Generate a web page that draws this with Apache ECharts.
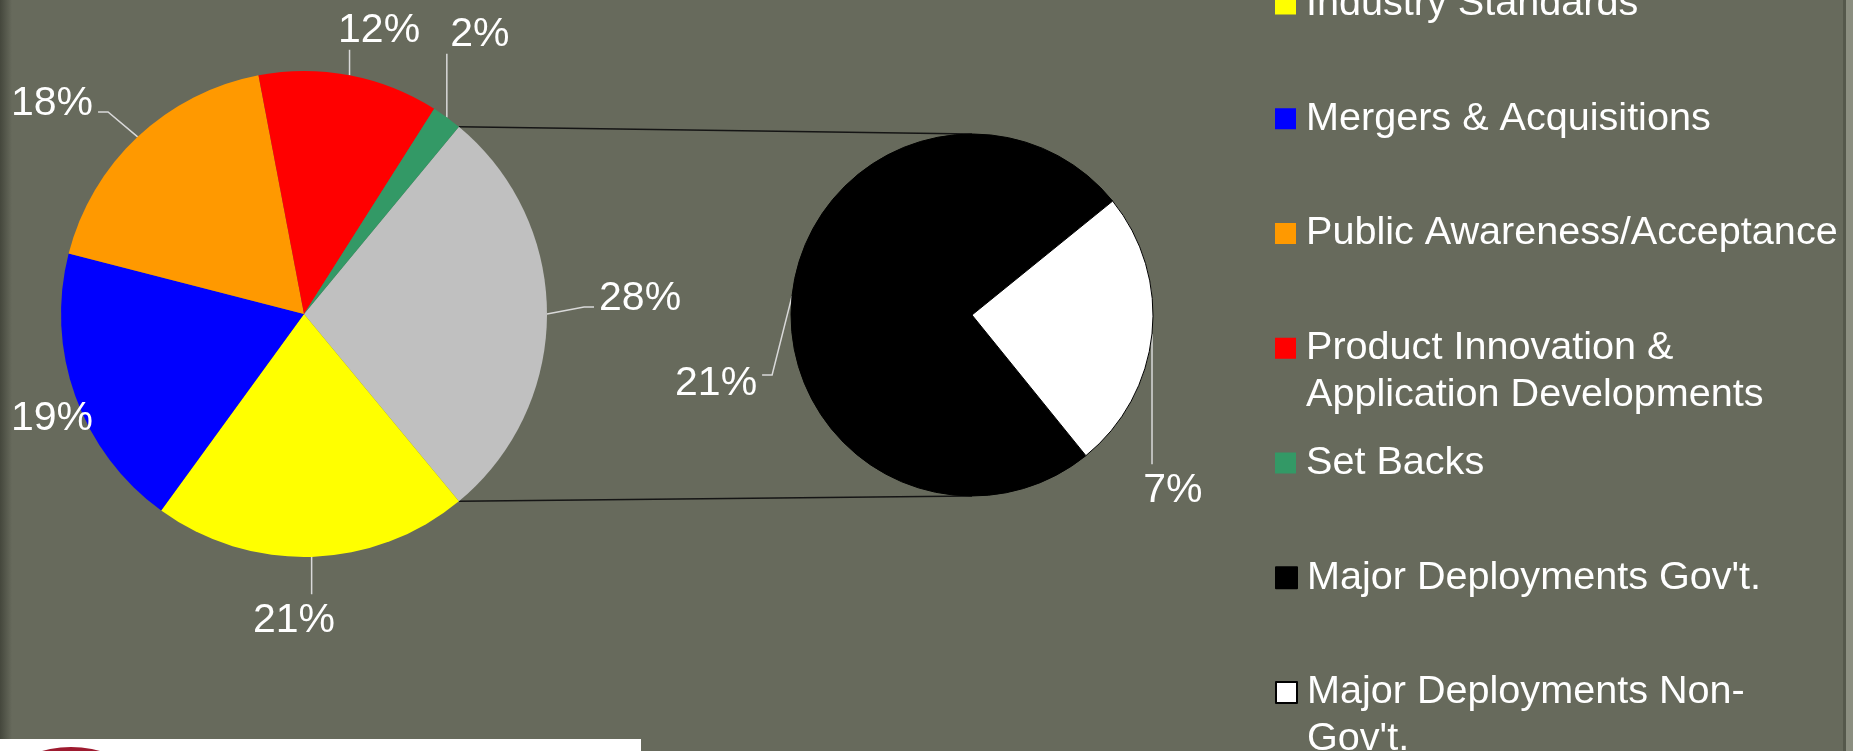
<!DOCTYPE html>
<html>
<head>
<meta charset="utf-8">
<script src="https://cdn.jsdelivr.net/npm/echarts@6/dist/echarts.min.js"></script>
<style>
  html, body { margin: 0; padding: 0; background: #676a5c; }
  #chart { width: 1853px; height: 751px; }
</style>
</head>
<body>
<div id="chart"></div>
<script>
// ---------- data ----------
const categories = ['Major Deployments', 'Industry Standards', 'Mergers & Acquisitions',
  'Public Awareness/Acceptance', 'Product Innovation & Application Developments', 'Set Backs'];
const values = [28, 21, 19, 18, 12, 2];
const colors = ['#c0c0c0', '#ffff00', '#0000ff', '#ff9900', '#ff0000', '#339966'];

const subCategories = ["Major Deployments Gov't.", "Major Deployments Non-Gov't."];
const subValues = [21, 7];
const subColors = ['#000000', '#ffffff'];

const legendNames = categories.slice(1).concat(subCategories);
const legendText = {
  'Product Innovation & Application Developments': ['Product Innovation &', 'Application Developments'],
  "Major Deployments Non-Gov't.": ['Major Deployments Non-', "Gov't."]
};

// ---------- layout ----------
const FONT = "'Liberation Sans', Arial, Helvetica, sans-serif";
const LABEL_FONT = 41;
const LABEL_DY = 4;
const MAIN = { cx: 304, cy: 314, r: 243 };
const SUB = { cx: 972, cy: 315, r: 181 };
const mainTotal = values.reduce((a, b) => a + b, 0);
const subTotal = subValues.reduce((a, b) => a + b, 0);
// split slice (index 0) centred on the horizontal towards the secondary pie
const mainStartAngle = values[0] / mainTotal * 180;
const subStartAngle = -51;
// label centre offsets (in radius units, relative to the pie centre)
const mainLabelOffsets = [[1.383, -0.078], [-0.041, 1.247], [-1.037, 0.416], [-1.037, -0.881], [0.309, -1.181], [0.724, -1.165]];
const subLabelOffsets = [[-1.414, 0.359], [1.110, 0.950]];
const LEG = { left: 1275, c0: 4, step: 114.75, lineHeight: 47, fontSize: 39.6 };

function midAngles(vals, total, startAngle) { // degrees clockwise from 12 o'clock
  let acc = 0;
  return vals.map(v => { const m = (90 - startAngle) + (acc + v / 2) / total * 360; acc += v; return m; });
}
const mainMid = midAngles(values, mainTotal, mainStartAngle);
const subMid = midAngles(subValues, subTotal, subStartAngle);

function clamp(v, a, b) { return Math.min(Math.max(v, a), b); }

function makeLabelLayout(geo, mids, offsets) {
  return function (p) {
    const i = p.dataIndex;
    const th = mids[i] * Math.PI / 180;
    const ex = geo.cx + geo.r * Math.sin(th), ey = geo.cy - geo.r * Math.cos(th);
    const lx = geo.cx + offsets[i][0] * geo.r, ly = geo.cy + offsets[i][1] * geo.r;
    const hw = p.labelRect.width / 2 + 5, hh = LABEL_FONT * 0.36 + 8;
    const ax = clamp(ex, lx - hw, lx + hw);
    let ay = clamp(ey, ly - hh, ly + hh);
    if (ax !== ex) ay = clamp(ey, ly - 5, ly + 12);
    let mx, my;
    if (ax !== ex && ay !== ey) { mx = ax + Math.sign(ex - ax) * 10; my = ay; }
    else { mx = (ax + ex) / 2; my = (ay + ey) / 2; }
    return { x: lx, y: ly + LABEL_DY, align: 'center', verticalAlign: 'middle',
      labelLinePoints: [[ex, ey], [mx, my], [ax, ay]] };
  };
}

function pointAt(geo, deg) {
  const t = deg * Math.PI / 180;
  return [geo.cx + geo.r * Math.sin(t), geo.cy - geo.r * Math.cos(t)];
}
const splitStart = 90 - mainStartAngle;
const splitEnd = splitStart + values[0] / mainTotal * 360;
const pTop = pointAt(MAIN, splitStart), pBot = pointAt(MAIN, splitEnd);

// one legend per entry so that the spacing matches; wrapped entries get a blank
// first line so that the marker sits beside the first visible line
const legends = legendNames.map((name, i) => {
  const lines = legendText[name];
  const c = LEG.c0 + i * LEG.step;
  const lg = {
    data: [name], orient: 'vertical', left: LEG.left,
    top: c - (lines ? 1.5 : 0.5) * LEG.lineHeight,
    padding: 0, itemWidth: 21, itemHeight: 21, icon: 'rect', selectedMode: false,
    formatter: n => (legendText[n] ? [' '].concat(legendText[n]).join('\n') : n),
    textStyle: { color: '#ffffff', fontSize: LEG.fontSize, fontFamily: FONT, lineHeight: LEG.lineHeight,
      backgroundColor: 'rgba(0,0,0,0)', padding: [0, 0, 0, 5] }
  };
  if (name === subCategories[1]) lg.itemStyle = { borderColor: '#000000', borderWidth: 2 };
  return lg;
});

const chart = echarts.init(document.getElementById('chart'), null, { renderer: 'canvas' });
chart.setOption({
  animation: false,
  backgroundColor: '#676a5c',
  legend: legends,
  graphic: [
    { type: 'rect', z: 0, silent: true, shape: { x: 0, y: 0, width: 12, height: 751 },
      style: { fill: new echarts.graphic.LinearGradient(0, 0, 1, 0, [
        { offset: 0, color: 'rgba(40,42,34,0.55)' }, { offset: 1, color: 'rgba(40,42,34,0)' }]) } },
    { type: 'rect', z: 0, silent: true, shape: { x: 1843, y: 0, width: 3, height: 751 },
      style: { fill: '#55584b' } },
    { type: 'rect', z: 0, silent: true, shape: { x: 1846, y: 0, width: 7, height: 751 },
      style: { fill: '#8b8e80' } },
    { type: 'rect', z: 0, silent: true, shape: { x: 0, y: 739, width: 641, height: 12 },
      style: { fill: '#ffffff' } },
    { type: 'circle', z: 0, silent: true, shape: { cx: 71, cy: 854, r: 107 },
      style: { fill: '#9e1a2f' } },
    { type: 'rect', z: 0, silent: true, shape: { x: 0, y: 751, width: 700, height: 200 },
      style: { fill: '#ffffff' } },
    { type: 'line', z: 1, silent: true,
      shape: { x1: pTop[0], y1: pTop[1], x2: SUB.cx, y2: SUB.cy - SUB.r },
      style: { stroke: '#151515', lineWidth: 1.5 } },
    { type: 'line', z: 1, silent: true,
      shape: { x1: pBot[0], y1: pBot[1], x2: SUB.cx, y2: SUB.cy + SUB.r },
      style: { stroke: '#151515', lineWidth: 1.5 } }
  ],
  series: [
    {
      type: 'pie', name: 'main', center: [MAIN.cx, MAIN.cy], radius: MAIN.r,
      startAngle: mainStartAngle, clockwise: true, avoidLabelOverlap: false,
      data: categories.map((n, i) => ({ name: n, value: values[i], itemStyle: { color: colors[i] } })),
      itemStyle: { borderWidth: 0 },
      label: { show: true, position: 'outside', formatter: '{c}%', color: '#ffffff',
        fontSize: LABEL_FONT, fontFamily: FONT },
      labelLine: { show: true, length: 10, length2: 10, lineStyle: { color: '#d9d9d9', width: 1.5 } },
      labelLayout: makeLabelLayout(MAIN, mainMid, mainLabelOffsets),
      emphasis: { disabled: true }
    },
    {
      type: 'pie', name: 'sub', center: [SUB.cx, SUB.cy], radius: SUB.r,
      startAngle: subStartAngle, clockwise: true, avoidLabelOverlap: false,
      data: subCategories.map((n, i) => ({ name: n, value: subValues[i], itemStyle: { color: subColors[i] } })),
      itemStyle: { borderColor: '#000000', borderWidth: 1 },
      label: { show: true, position: 'outside', formatter: '{c}%', color: '#ffffff',
        fontSize: LABEL_FONT, fontFamily: FONT },
      labelLine: { show: true, length: 10, length2: 10, lineStyle: { color: '#d9d9d9', width: 1.5 } },
      labelLayout: makeLabelLayout(SUB, subMid, subLabelOffsets),
      emphasis: { disabled: true }
    }
  ]
});
</script>
</body>
</html>
